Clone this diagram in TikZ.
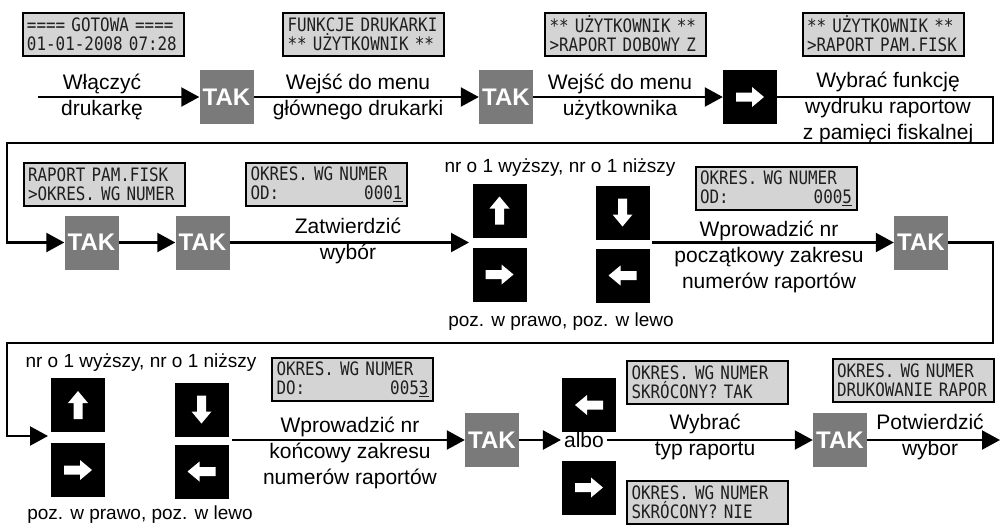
\documentclass[tikz,border=0pt]{standalone}
\usepackage{fontspec}
\setmainfont{Liberation Sans}
\newfontfamily\lcdfont[FakeStretch=0.86]{DejaVu Sans Mono}
\usetikzlibrary{arrows.meta,calc}
\definecolor{takgray}{RGB}{122,122,122}
\definecolor{lcdgray}{RGB}{212,212,212}
\newcommand\lcdrow[2]{\makebox[152pt][l]{#1\hfill#2}}
\newcommand\keyarrow[2]{\fill[white, shift={(#1.center)}, rotate=#2] (-14,-4.5) -- (2,-4.5) -- (2,-10) -- (14,0) -- (2,10) -- (2,4.5) -- (-14,4.5) -- cycle;}
\tikzset{
  flow/.style={line width=2.2pt, draw=black},
  arr/.style={flow, -{Triangle[length=18pt,width=19pt]}},
  tak/.style={fill=takgray, minimum width=54pt, minimum height=54pt, inner sep=0pt, text=white, font=\fontsize{24}{24}\selectfont\bfseries},
  keybox/.style={fill=black, minimum width=54pt, minimum height=54pt, inner sep=0pt},
  lcd/.style={draw=black, line width=2pt, fill=lcdgray, minimum width=161pt, minimum height=43pt, inner xsep=3.5pt, inner ysep=0pt, text width=152pt, align=left, text=black!88, font=\lcdfont\fontsize{18.5}{19}\selectfont},
  txt/.style={align=center, inner sep=0pt, font=\fontsize{21}{26}\selectfont},
  lbl/.style={inner sep=0pt, font=\fontsize{19}{22}\selectfont},
}
\begin{document}
\begin{tikzpicture}[x=1pt,y=-1pt]
\useasboundingbox (0,0) rectangle (1000,525);

% LCD displays
\node[lcd] (d1) at (103,34) {==== GOTOWA ====\\01-01-2008 07:28};
\node[lcd] (d2) at (363.5,34) {FUNKCJE DRUKARKI\\{}** UŻYTKOWNIK **};
\node[lcd] (d3) at (625.5,34) {** UŻYTKOWNIK **\\{}>RAPORT DOBOWY Z};
\node[lcd] (d4) at (883,34) {** UŻYTKOWNIK **\\{}>RAPORT PAM.FISK};
\node[lcd] (d5) at (104,184) {RAPORT PAM.FISK\\{}>OKRES. WG NUMER};
\node[lcd] (d6) at (326.5,184) {OKRES. WG NUMER\\\lcdrow{OD:}{000\underline{1}}};
\node[lcd] (d7) at (776,188) {OKRES. WG NUMER\\\lcdrow{OD:}{000\underline{5}}};
\node[lcd] (d8) at (352.5,379) {OKRES. WG NUMER\\\lcdrow{DO:}{005\underline{3}}};
\node[lcd] (d9) at (707.5,382) {OKRES. WG NUMER\\SKRÓCONY? TAK};
\node[lcd] (d10) at (707.5,502) {OKRES. WG NUMER\\SKRÓCONY? NIE};
\node[lcd] (d11) at (913,380) {OKRES. WG NUMER\\DRUKOWANIE RAPOR};

% TAK buttons
\node[tak] (t1) at (226.5,97) {TAK};
\node[tak] (t2) at (506,97) {TAK};
\node[tak] (t3) at (91.5,242.5) {TAK};
\node[tak] (t4) at (202.5,242.5) {TAK};
\node[tak] (t5) at (921,242.5) {TAK};
\node[tak] (t6) at (492,440) {TAK};
\node[tak] (t7) at (840,440) {TAK};

% arrow keys
\node[keybox] (k1) at (750,97) {};   \keyarrow{k1}{0}
\node[keybox] (ku1) at (499.5,210.5) {}; \keyarrow{ku1}{90}
\node[keybox] (kr1) at (499.5,274.5) {}; \keyarrow{kr1}{0}
\node[keybox] (kd1) at (622.5,212.5) {}; \keyarrow{kd1}{270}
\node[keybox] (kl1) at (622.5,275.5) {}; \keyarrow{kl1}{180}
\node[keybox] (ku2) at (78,405) {}; \keyarrow{ku2}{90}
\node[keybox] (kr2) at (78,470) {}; \keyarrow{kr2}{0}
\node[keybox] (kd2) at (201.5,409.5) {}; \keyarrow{kd2}{270}
\node[keybox] (kl2) at (201.5,471.5) {}; \keyarrow{kl2}{180}
\node[keybox] (ko1) at (589,405) {}; \keyarrow{ko1}{180}
\node[keybox] (ko2) at (589,487.5) {}; \keyarrow{ko2}{0}

% texts
\node[txt] (x1) at (102,97) {Włączyć\\drukarkę};
\node[txt] (x2) at (358,97) {Wejść do menu\\głównego drukarki};
\node[txt] (x3) at (620,97) {Wejść do menu\\użytkownika};
\node[txt] (x4) at (888,108) {Wybrać funkcję\\wydruku raportow\\z pamięci fiskalnej};
\node[txt] (x5) at (348,241) {Zatwierdzić\\wybór};
\node[txt] (x6) at (769,257) {Wprowadzić nr\\początkowy zakresu\\numerów raportów};
\node[txt] (x7) at (350,453) {Wprowadzić nr\\końcowy zakresu\\numerów raportów};
\node[txt] (x8) at (705,437) {Wybrać\\typ raportu};
\node[txt] (x9) at (930,437) {Potwierdzić\\wybor};
\node[txt, inner xsep=3pt, fill=white] (albo) at (584,440) {albo};

\node[lbl] (n1) at (560,168) {nr o 1 wyższy, nr o 1 niższy};
\node[lbl] (p1) at (561,322) {poz. w prawo, poz. w lewo};
\node[lbl] (n2) at (141,363) {nr o 1 wyższy, nr o 1 niższy};
\node[lbl] (p2) at (140,515) {poz. w prawo, poz. w lewo};

% connectors
\coordinate (s1) at (38,97);
\coordinate (r1) at (993,143);
\coordinate (l1) at (7,143);
\coordinate (g1in) at (469,242.5);
\coordinate (g1out) at (652,242.5);
\coordinate (r2) at (993,343);
\coordinate (l2) at (7,343);
\coordinate (g2in) at (48,436);
\coordinate (g2out) at (232,440);
\coordinate (e3) at (1000,440);

\draw[arr] (s1) -- (t1);
\draw[arr] (t1) -- (t2);
\draw[arr] (t2) -- (k1);
\draw[arr] (k1.east) -- (k1.east -| r1) -- (r1) -- (l1) -- (l1 |- t3) -- (t3);
\draw[arr] (t3) -- (t4);
\draw[arr] (t4) -- (g1in);
\draw[arr] (g1out) -- (t5);
\draw[arr] (t5.east) -- (t5.east -| r2) -- (r2) -- (l2) -- (l2 |- g2in) -- (g2in);
\draw[arr] (g2out) -- (t6);
\draw[arr] (t6) -- (albo);
\draw[arr] (albo) -- (t7);
\draw[arr] (t7) -- (e3);
\end{tikzpicture}
\end{document}
